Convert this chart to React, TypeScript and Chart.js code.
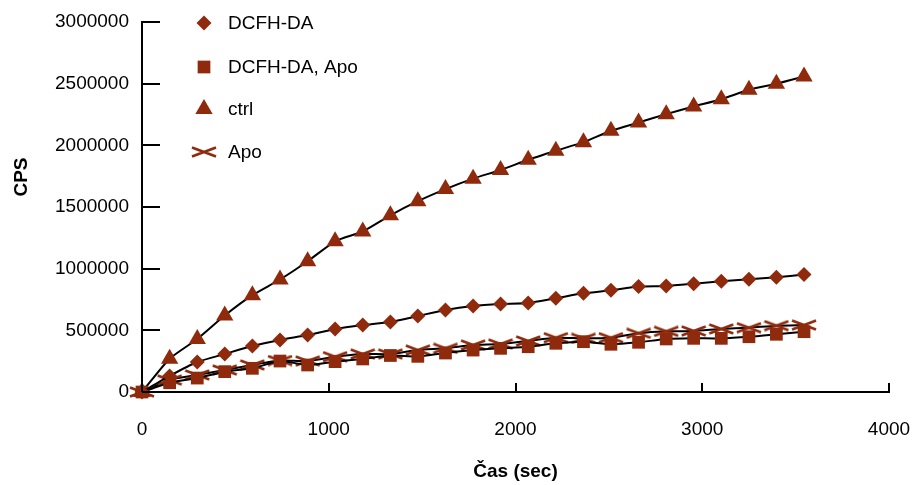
import React, { useEffect, useRef } from "react";
import { Chart, registerables } from "chart.js";

Chart.register(...registerables);

const timeSec = [0, 148, 296, 443, 591, 739, 887, 1034, 1182, 1330, 1477, 1625, 1773, 1920, 2068, 2216, 2364, 2511, 2659, 2807, 2954, 3102, 3250, 3397, 3545];

const dcfhDa = [0, 130000, 243000, 308000, 373000, 422000, 462000, 511000, 543000, 568000, 616000, 665000, 697000, 713000, 722000, 760000, 800000, 825000, 855000, 860000, 878000, 898000, 914000, 930000, 952000];
const dcfhDaApo = [0, 75000, 113000, 165000, 192000, 251000, 219000, 246000, 268000, 296000, 289000, 316000, 340000, 354000, 367000, 395000, 408000, 387000, 403000, 430000, 435000, 435000, 448000, 468000, 489000];
const ctrl = [0, 270000, 430000, 620000, 785000, 912000, 1060000, 1222000, 1302000, 1433000, 1547000, 1645000, 1730000, 1800000, 1883000, 1956000, 2026000, 2118000, 2185000, 2253000, 2315000, 2374000, 2450000, 2499000, 2558000];
const apo = [0, 97000, 138000, 178000, 219000, 255000, 251000, 286000, 308000, 308000, 340000, 354000, 381000, 389000, 414000, 440000, 435000, 440000, 476000, 492000, 495000, 511000, 521000, 538000, 543000];

const seriesLabels = ["DCFH-DA", "DCFH-DA, Apo", "ctrl", "Apo"];
const xTitle = "Čas (sec)";
const yTitle = "CPS";

const MARKER = "#8f2a0d";
const FONT = "'Liberation Sans', Arial, Helvetica, sans-serif";

function makeXMarker(): HTMLCanvasElement {
  const c = document.createElement("canvas");
  c.width = 26;
  c.height = 12;
  const g = c.getContext("2d")!;
  g.strokeStyle = MARKER;
  g.lineWidth = 2.6;
  g.lineCap = "butt";
  g.beginPath();
  g.moveTo(1, 1.5);
  g.lineTo(25, 10.5);
  g.moveTo(1, 10.5);
  g.lineTo(25, 1.5);
  g.stroke();
  return c;
}

function drawMarker(ctx: CanvasRenderingContext2D, style: any, r: number, x: number, y: number) {
  ctx.save();
  ctx.fillStyle = MARKER;
  ctx.beginPath();
  if (style === "rectRot") {
    ctx.moveTo(x, y - r);
    ctx.lineTo(x + r, y);
    ctx.lineTo(x, y + r);
    ctx.lineTo(x - r, y);
    ctx.closePath();
    ctx.fill();
  } else if (style === "rect") {
    const s = r * Math.SQRT1_2;
    ctx.rect(x - s, y - s, 2 * s, 2 * s);
    ctx.fill();
  } else if (style === "triangle") {
    ctx.moveTo(x, y - r);
    ctx.lineTo(x + r * 0.866, y + r / 2);
    ctx.lineTo(x - r * 0.866, y + r / 2);
    ctx.closePath();
    ctx.fill();
  } else if (style instanceof HTMLCanvasElement) {
    ctx.drawImage(style, x - style.width / 2, y - style.height / 2);
  }
  ctx.restore();
}

const decorPlugin = {
  id: "decor",
  afterDraw(chart: any) {
    const ctx: CanvasRenderingContext2D = chart.ctx;
    const xs = chart.scales.x;
    const ys = chart.scales.y;
    const area = chart.chartArea;
    ctx.save();
    ctx.strokeStyle = "#000";
    ctx.lineWidth = 2;
    ys.ticks.forEach((t: any) => {
      const py = Math.round(ys.getPixelForValue(t.value));
      ctx.beginPath();
      ctx.moveTo(area.left, py);
      ctx.lineTo(area.left + 18, py);
      ctx.stroke();
    });
    xs.ticks.forEach((t: any) => {
      const px = Math.round(xs.getPixelForValue(t.value));
      ctx.beginPath();
      ctx.moveTo(px, area.bottom);
      ctx.lineTo(px, area.bottom - 9);
      ctx.stroke();
    });
    ctx.fillStyle = "#000";
    ctx.font = `bold 19px ${FONT}`;
    ctx.textAlign = "center";
    ctx.textBaseline = "middle";
    ctx.translate(22, 177);
    ctx.rotate(-Math.PI / 2);
    ctx.fillText(yTitle, 0, 0);
    ctx.restore();

    ctx.save();
    const rows = [23, 67, 109, 152];
    chart.data.datasets.forEach((ds: any, i: number) => {
      const y = rows[i];
      drawMarker(ctx, ds.pointStyle, ds.pointRadius, 204, y);
      ctx.fillStyle = "#000";
      ctx.font = `19px ${FONT}`;
      ctx.textAlign = "left";
      ctx.textBaseline = "middle";
      ctx.fillText(ds.label, 228, y + 1);
    });
    ctx.restore();
  },
};

export default function App() {
  const ref = useRef<HTMLCanvasElement | null>(null);

  useEffect(() => {
    if (!ref.current) return;
    const xMarker = makeXMarker();
    const mk = (vals: number[]) => vals.map((v, i) => ({ x: timeSec[i], y: v }));
    const common = {
      borderColor: "#000",
      borderWidth: 2,
      backgroundColor: MARKER,
      pointBackgroundColor: MARKER,
      pointBorderColor: MARKER,
      pointBorderWidth: 0,
      tension: 0.2,
      clip: false as any,
    };
    Chart.defaults.color = "#000";
    Chart.defaults.font.family = FONT;
    const chart = new Chart(ref.current, {
      type: "line",
      data: {
        datasets: [
          { ...common, label: seriesLabels[0], data: mk(dcfhDa), pointStyle: "rectRot", pointRadius: 7.5 },
          { ...common, label: seriesLabels[1], data: mk(dcfhDaApo), pointStyle: "rect", pointRadius: 9 },
          { ...common, label: seriesLabels[2], data: mk(ctrl), pointStyle: "triangle", pointRadius: 10 },
          { ...common, label: seriesLabels[3], data: mk(apo), pointStyle: xMarker as any, pointRadius: 8 },
        ],
      },
      options: {
        animation: false,
        responsive: true,
        maintainAspectRatio: false,
        layout: { padding: { left: 0, right: 23, top: 22, bottom: 0 }, autoPadding: false } as any,
        plugins: { legend: { display: false }, tooltip: { enabled: false } },
        scales: {
          x: {
            type: "linear",
            min: 0,
            max: 4000,
            grid: { display: false },
            border: { display: true, color: "#000", width: 2 },
            ticks: { stepSize: 1000, padding: 18, color: "#000", font: { size: 19, family: FONT }, maxRotation: 0, callback: (v: any) => String(v) },
            title: { display: true, text: xTitle, color: "#000", font: { size: 19, weight: "bold", family: FONT }, padding: { top: 0, bottom: 2 } },
            afterFit: (s: any) => { s.height = 93; s.paddingLeft = 0; s.paddingRight = 0; },
          },
          y: {
            type: "linear",
            min: 0,
            max: 3000000,
            grid: { display: false },
            border: { display: true, color: "#000", width: 2 },
            ticks: { stepSize: 500000, padding: 5, color: "#000", font: { size: 19, family: FONT }, callback: (v: any) => String(v) },
            afterFit: (s: any) => { s.width = 142; s.paddingTop = 0; s.paddingBottom = 0; },
          },
        },
      },
      plugins: [decorPlugin],
    });
    return () => chart.destroy();
  }, []);

  return (
    <div style={{ position: "fixed", left: 0, top: 0, width: 912, height: 485, background: "#fff" }}>
      <canvas ref={ref} />
    </div>
  );
}
